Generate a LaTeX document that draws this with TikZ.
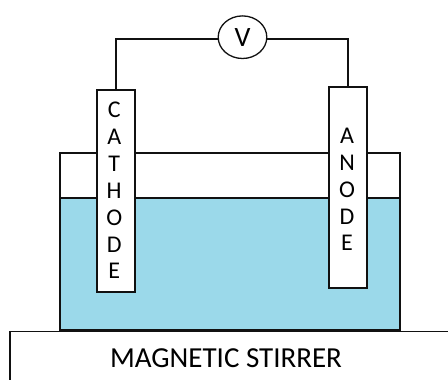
\documentclass[tikz,border=0pt]{standalone}
\usepackage{fontspec}
\setmainfont{Carlito}
\definecolor{water}{HTML}{9BD9EA}
\definecolor{ink}{HTML}{111111}
\begin{document}
\begin{tikzpicture}[x=1pt,y=-1pt,
  wire/.style={draw=ink,line width=1.8pt},
  electrode/.style={draw=ink,line width=1.8pt,fill=white,minimum width=38pt,inner sep=0pt,anchor=north},
  letters/.style={align=center,anchor=north,inner sep=0pt,font=\fontsize{24}{26.85}\selectfont},
  ]
\useasboundingbox[fill=white] (0,0) rectangle (448,380);
% beaker
\fill[water] (60,198) rectangle (400,330);
\draw[wire] (60,198) -- (400,198);
\draw[wire] (60,153) rectangle (400,330);
% stirrer
\draw[draw=ink,line width=1.8pt] (10,380) -- (10,331.5) -- (448,331.5);
\draw[draw=ink,line width=3pt] (60,330) -- (400,330);
\node[font=\fontsize{29}{33}\selectfont,anchor=center] (stirrer) at (226,358) {MAGNETIC STIRRER};
% electrodes
\node[electrode,minimum height=202pt] (cathode) at (115.7,89) {};
\node[letters] (cathodetext) at (cathode.north) [xshift=-1.5pt,yshift=-13pt] {C\\A\\T\\H\\O\\D\\E};
\node[electrode,minimum height=201pt] (anode) at (348,86) {};
\node[letters] (anodetext) at (anode.north) [xshift=-1pt,yshift=-42pt] {A\\N\\O\\D\\E};
% meter
\coordinate (vl) at (218,39.3);
\coordinate (vr) at (267,39.3);
\draw[wire] (vl) -| (cathode.north);
\draw[wire] (vr) -| (anode.north);
\draw[draw=ink,line width=1.3pt,fill=white] (242.5,37.2) ellipse [x radius=24.3,y radius=21.3];
\node[font=\fontsize{28}{30}\selectfont] (v) at (242.5,38) {V};
\end{tikzpicture}
\end{document}
